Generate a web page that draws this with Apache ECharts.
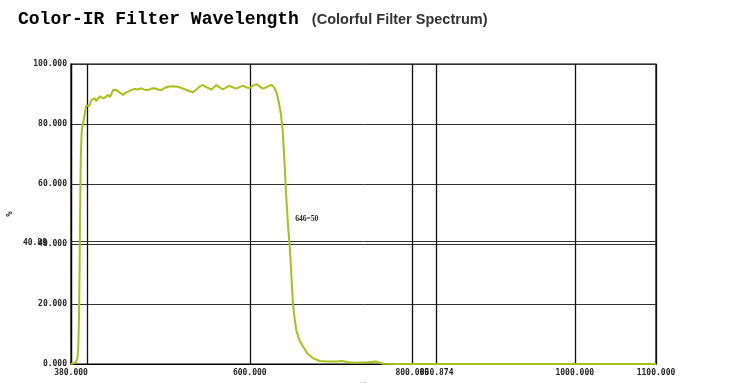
<!DOCTYPE html>
<html>
<head>
<meta charset="utf-8">
<script src="https://cdn.jsdelivr.net/npm/echarts@6/dist/echarts.min.js"></script>
<style>
html,body{margin:0;padding:0;background:#fff;}
#chart{width:750px;height:383px;}
</style>
</head>
<body>
<div id="chart"></div>
<script>
// ---- data ----
const wavelength = [380,383,386,388,389,389.8,390.5,391.2,392,393,394.5,396,397.8,399,400.2,402.5,405.2,407,409.2,411,413.3,415.5,417.5,420,422.4,425.6,428,431.8,435.9,440,444.1,447,450.2,454,458.5,462,466.7,471,474.8,479,483.1,487,491.3,495,499.4,505,511.8,516,520,525,530,534,538,542,547,553,559,563,567,571,575,579,583.6,588,592,596,600,604,608,612,616,620,624,627,630,633,636,638.5,640.5,642,643.5,645,647.2,649.2,651.3,653.3,655.5,657.5,661,665.6,671,678,686,695,707,713,722,731,745,756,764,780,900,1100];
const transmittance = [0,0.2,0.6,2,6,15,30,50,68,77,80,82,84.7,86.2,86.6,86.0,88,87.5,88.6,87.6,88,89.2,89.1,88.5,88.3,89.7,89,91.3,91.3,90.5,89.7,90.4,90.8,91.3,91.7,91.5,91.9,91.4,91.3,91.8,91.9,91.5,91.3,92,92.4,92.6,92.4,92.0,91.6,91.0,90.6,91.4,92.4,93,92.2,91.5,93,92.2,91.5,92.2,92.7,92.2,91.8,92.4,92.7,92.2,92,92.8,93.3,92.6,91.8,92.2,92.8,93,92.2,90.5,87,83,78,71,63,55.5,45.8,39.1,29.1,19.7,14.5,11,8,5.8,3.5,1.9,1.0,0.8,0.8,1.0,0.6,0.4,0.6,0.8,0.1,0,0,0];

const xGridValues = [380, 400, 600, 800, 830, 1000, 1100];
const xLabelValues = [380, 600, 800, 830, 1000, 1100];
const xLabelTexts = ['380.000', '600.000', '800.000', '850.874', '1000.000', '1100.000'];
const yExtraLine = [40.888];
const yExtraLabel = ['40.888'];
const annotation = { x: 646, y: 50, text: '646=50' };

const titleMain = 'Color-IR Filter Wavelength';
const titleSub = '(Colorful Filter Spectrum)';

const seriesData = wavelength.map((w, i) => [w, transmittance[i]]);

const chart = echarts.init(document.getElementById('chart'), null, { renderer: 'canvas' });
const gridColor = '#333';
const labelFont = { fontFamily: 'DejaVu Sans Mono', fontSize: 8, fontWeight: 'bold', color: '#222' };

chart.setOption({
  animation: false,
  backgroundColor: '#fff',
  title: {
    left: 13, top: 5,
    text: '{a|' + titleMain + '}{b|' + titleSub + '}',
    textStyle: {
      rich: {
        a: { fontFamily: 'Liberation Mono', fontWeight: 'bold', fontSize: 18, color: '#000' },
        b: { fontFamily: 'Liberation Sans', fontWeight: 'bold', fontSize: 14.5, color: '#333', padding: [2, 0, 0, 13] }
      }
    }
  },
  grid: { left: 71, right: 94, top: 64, bottom: 19, show: true, borderColor: '#000', borderWidth: 1.2, containLabel: false, outerBoundsMode: 'none' },
  xAxis: {
    type: 'value', min: 380, max: 1100,
    name: 'nm', nameLocation: 'middle', nameGap: 11,
    nameTextStyle: { fontFamily: 'DejaVu Sans Mono', fontSize: 6, fontWeight: 'bold', color: '#222' },
    axisLine: { show: true, lineStyle: { color: '#000', width: 1.2 } },
    axisTick: { show: false, customValues: xGridValues },
    splitLine: { show: true, lineStyle: { color: '#111', width: 1.3 } },
    axisLabel: Object.assign({
      customValues: xLabelValues, margin: 5, hideOverlap: false,
      formatter: v => { const i = xLabelValues.indexOf(v); return i >= 0 ? xLabelTexts[i] : ''; }
    }, labelFont)
  },
  yAxis: {
    type: 'value', min: 0, max: 100, interval: 20,
    name: '%', nameLocation: 'middle', nameGap: 57, nameRotate: 90,
    nameTextStyle: { fontFamily: 'DejaVu Sans Mono', fontSize: 9, fontWeight: 'bold', color: '#222' },
    axisLine: { show: true, lineStyle: { color: '#000', width: 1.2 } },
    axisTick: { show: false },
    splitLine: { show: true, lineStyle: { color: gridColor, width: 1 } },
    axisLabel: Object.assign({ margin: 4, formatter: v => v.toFixed(3) }, labelFont)
  },
  series: [{
    type: 'line',
    data: seriesData,
    showSymbol: false,
    lineStyle: { color: '#a6c01c', width: 2 },
    z: 5,
    markLine: {
      silent: true, symbol: 'none',
      lineStyle: { color: gridColor, width: 1, type: 'solid' },
      label: Object.assign({ show: true, position: 'start', distance: 24, offset: [0, 2], formatter: p => yExtraLabel[yExtraLine.indexOf(p.value)] }, labelFont),
      data: yExtraLine.map(v => ({ yAxis: v }))
    },
    markPoint: {
      silent: true, symbol: 'circle', symbolSize: 0,
      label: { show: true, position: 'right', distance: 8, offset: [0, 5], formatter: annotation.text,
        fontFamily: 'Liberation Serif', fontSize: 7.5, fontWeight: 'bold', color: '#222' },
      data: [{ coord: [annotation.x, annotation.y] }]
    }
  }]
});
</script>
</body>
</html>
